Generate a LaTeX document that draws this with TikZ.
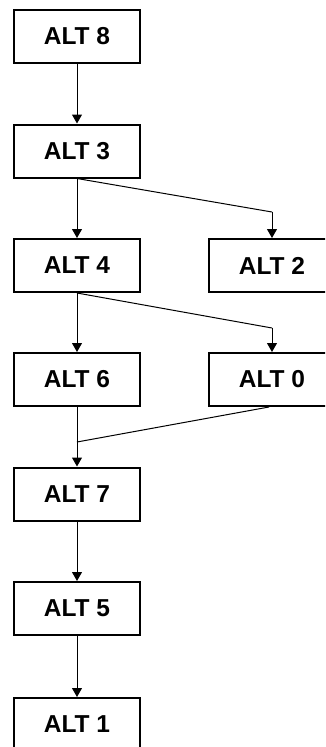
\documentclass[tikz,border=0pt]{standalone}
\usepackage{fontspec}
\setmainfont{Liberation Sans}
\usepackage{tikz}
\usetikzlibrary{arrows.meta,positioning}

\tikzset{
  altbox/.style={draw, line width=2pt, minimum width=126pt, minimum height=53pt, inner sep=0pt, font=\fontsize{24.5}{26}\selectfont\bfseries},
  link/.style={line width=1pt, -{Triangle[length=9pt,width=10pt]}},
  plainlink/.style={line width=1pt}
}

\begin{document}
\begin{tikzpicture}[x=1pt,y=-1pt]
\useasboundingbox (0,0) rectangle (325,747);
\clip (0,0) rectangle (325,747);

% Left column
\node[altbox] (a8) at (77,36.5) {ALT 8};
\node[altbox] (a3) at (77,151) {ALT 3};
\node[altbox] (a4) at (77,265.5) {ALT 4};
\node[altbox] (a6) at (77,379.5) {ALT 6};
\node[altbox] (a7) at (77,494) {ALT 7};
\node[altbox] (a5) at (77,608.5) {ALT 5};
\node[altbox] (a1) at (77,724.5) {ALT 1};

% Right column
\node[altbox] (a2) at (272,265.5) {ALT 2};
\node[altbox] (a0) at (272,379.5) {ALT 0};

% Bends
\coordinate (k32) at (272,212);
\coordinate (k40) at (272,328);
\coordinate (k07) at (77,442);

% Connectors
\draw [link] (a8) -- (a3);
\draw [link] (a3) -- (a4);
\draw [plainlink] (a3.south) -- (k32);
\draw [link] (k32) -- (a2);
\draw [link] (a4) -- (a6);
\draw [plainlink] (a4.south) -- (k40);
\draw [link] (k40) -- (a0);
\draw [plainlink] ([xshift=-3pt]a0.south) -- (k07);
\draw [link] (a6) -- (a7);
\draw [link] (a7) -- (a5);
\draw [link] (a5) -- (a1);
\end{tikzpicture}
\end{document}
